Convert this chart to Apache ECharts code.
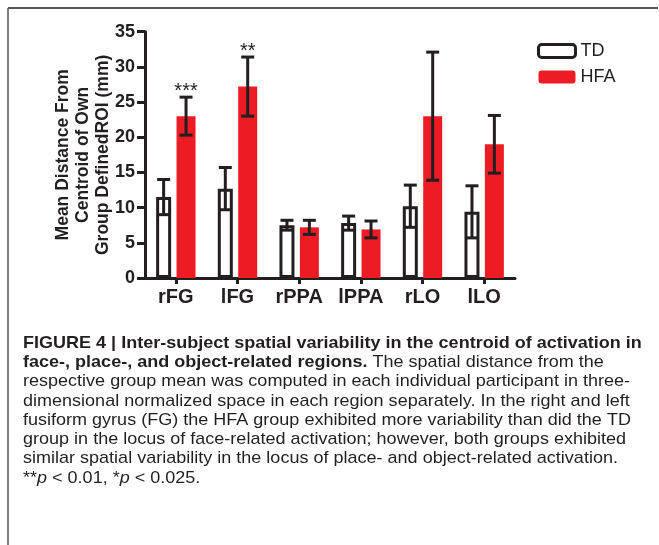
<!DOCTYPE html>
<html>
<head>
<meta charset="utf-8">
<script src="https://cdn.jsdelivr.net/npm/echarts@6/dist/echarts.min.js"></script>
<style>html,body{margin:0;padding:0;background:#fff;}#c{width:659px;height:545px;}</style>
</head>
<body>
<div id="c"></div>
<script>
var categories = ['rFG', 'lFG', 'rPPA', 'lPPA', 'rLO', 'lLO'];
var tdMean = [11.5, 12.7, 7.5, 7.8, 10.2, 9.4];
var tdErr = [2.5, 3.0, 0.7, 1.0, 3.0, 3.7];
var hfaMean = [23.0, 27.2, 7.2, 6.9, 23.0, 19.0];
var hfaErr = [2.7, 4.2, 1.0, 1.2, 9.1, 4.1];
var hfaStars = ['***', '**', '', '', '', ''];
var yTicks = [0, 5, 10, 15, 20, 25, 30, 35];
var captionLines = [
  [{t: 'FIGURE 4 | Inter-subject spatial variability in the centroid of activation in', b: true}],
  [{t: 'face-, place-, and object-related regions.', b: true}, {t: ' The spatial distance from the', b: false}],
  [{t: 'respective group mean was computed in each individual participant in three-', b: false}],
  [{t: 'dimensional normalized space in each region separately. In the right and left', b: false}],
  [{t: 'fusiform gyrus (FG) the HFA group exhibited more variability than did the TD', b: false}],
  [{t: 'group in the locus of face-related activation; however, both groups exhibited', b: false}],
  [{t: 'similar spatial variability in the locus of place- and object-related activation.', b: false}],
  [{t: '**', b: false}, {t: 'p', i: true}, {t: ' < 0.01, *', b: false}, {t: 'p', i: true}, {t: ' < 0.025.', b: false}]
];

var INK = '#231F20';
var RED = '#ED1C24';
var TD_W = 15, HFA_W = 19, GAP_P = 0.36;
var sumW = TD_W * (1 + GAP_P) + HFA_W;
var tdOff = -sumW / 2 + TD_W / 2;
var hfaOff = -sumW / 2 + TD_W * (1 + GAP_P) + HFA_W / 2;

var errData = [];
for (var i = 0; i < categories.length; i++) {
  errData.push([i, tdMean[i] - tdErr[i], tdMean[i] + tdErr[i], 0, '']);
  errData.push([i, hfaMean[i] - hfaErr[i], hfaMean[i] + hfaErr[i], 1, hfaStars[i]]);
}

var capFont = '"Liberation Sans Narrow", "Liberation Sans", Arial, sans-serif';
var graphics = [
  {type: 'line', shape: {x1: 8, y1: 8, x2: 658, y2: 8}, style: {stroke: INK, lineWidth: 1.5}},
  {type: 'line', shape: {x1: 8, y1: 8, x2: 8, y2: 545}, style: {stroke: '#555', lineWidth: 1.5}}
];
var lineY0 = 343, lineStep = 19.3;
captionLines.forEach(function (segs, li) {
  var rich = {}, str = '';
  segs.forEach(function (s, si) {
    var k = 's' + si;
    rich[k] = {fontFamily: capFont, fontSize: 17, fontWeight: s.b ? 'bold' : 'normal', fontStyle: s.i ? 'italic' : 'normal', fill: INK};
    str += '{' + k + '|' + s.t + '}';
  });
  graphics.push({type: 'text', x: 23, y: lineY0 + li * lineStep, scaleX: 1.06,
    style: {text: str, rich: rich, fill: INK, x: 0, y: 0, verticalAlign: 'middle', align: 'left'}});
});

var chart = echarts.init(document.getElementById('c'));
chart.setOption({
  animation: false,
  backgroundColor: '#fff',
  grid: {left: 145, right: 144, top: 31.7, bottom: 267, containLabel: false},
  legend: {
    orient: 'vertical', left: 532, top: 37, itemWidth: 37, itemHeight: 13, itemGap: 8,
    textStyle: {fontFamily: 'Liberation Sans, Arial', fontSize: 18, color: INK},
    data: [{name: 'TD', itemStyle: {color: '#fff', borderColor: INK, borderWidth: 3}}, {name: 'HFA', itemStyle: {color: RED}}]
  },
  xAxis: {
    type: 'category', data: categories,
    axisLine: {lineStyle: {color: INK, width: 3}},
    axisTick: {show: true, alignWithLabel: true, length: 6, lineStyle: {color: INK, width: 3}},
    axisLabel: {fontFamily: 'Liberation Sans, Arial', fontWeight: 'bold', fontSize: 20, color: INK, margin: 9}
  },
  yAxis: {
    type: 'value', min: 0, max: 35, interval: 5,
    axisLine: {show: true, lineStyle: {color: INK, width: 3}},
    axisTick: {show: true, length: 8, lineStyle: {color: INK, width: 3}},
    splitLine: {show: false},
    axisLabel: {fontFamily: 'Liberation Sans, Arial', fontWeight: 'bold', fontSize: 18, color: INK, margin: 10,
      formatter: function (v) { return yTicks.indexOf(v) >= 0 ? String(v) : ''; }},
    name: 'Mean Distance From\nCentroid of Own\nGroup DefinedROI (mm)',
    nameLocation: 'middle', nameGap: 32, nameRotate: 90, nameMoveOverlap: false,
    nameTextStyle: {fontFamily: 'Liberation Sans, Arial', fontWeight: 'bold', fontSize: 17.5, lineHeight: 20, color: INK}
  },
  series: [
    {name: 'TD', type: 'bar', data: tdMean, barWidth: TD_W, barGap: (GAP_P * 100) + '%',
      itemStyle: {color: '#fff', borderColor: INK, borderWidth: 3}},
    {name: 'HFA', type: 'bar', data: hfaMean, barWidth: HFA_W, itemStyle: {color: RED}},
    {type: 'custom', data: errData, z: 10, encode: {x: 0, y: [1, 2]},
      renderItem: function (params, api) {
        var c = api.value(0), lo = api.value(1), hi = api.value(2), s = api.value(3);
        var star = errData[params.dataIndex][4];
        var p1 = api.coord([c, lo]), p2 = api.coord([c, hi]);
        var x = p1[0] + (s === 0 ? tdOff : hfaOff);
        var hw = 6.5;
        var st = {stroke: INK, lineWidth: 3};
        var ch = [
          {type: 'line', shape: {x1: x, y1: p1[1], x2: x, y2: p2[1]}, style: st},
          {type: 'line', shape: {x1: x - hw, y1: p1[1], x2: x + hw, y2: p1[1]}, style: st},
          {type: 'line', shape: {x1: x - hw, y1: p2[1], x2: x + hw, y2: p2[1]}, style: st}
        ];
        if (star) {
          ch.push({type: 'text', style: {text: star, x: x, y: p2[1] - 6, align: 'center', verticalAlign: 'middle',
            fontFamily: 'Liberation Sans, Arial', fontSize: 20, fill: INK}});
        }
        return {type: 'group', children: ch};
      }}
  ],
  graphic: graphics
});
</script>
</body>
</html>
